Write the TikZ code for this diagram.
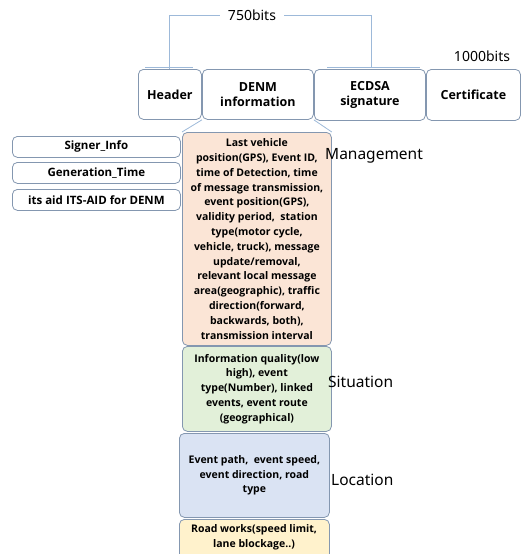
\documentclass[tikz,border=0pt]{standalone}
\usepackage{fontspec}
\setmainfont{Noto Sans}
\newfontfamily\boldf{Open Sans}
\definecolor{bordc}{HTML}{8497B0}
\definecolor{linec}{HTML}{9DB9D9}
\definecolor{peach}{HTML}{FBE5D6}
\definecolor{greenf}{HTML}{E2F0D9}
\definecolor{bluef}{HTML}{DAE3F3}
\definecolor{yellowf}{HTML}{FFF2CC}
\begin{document}
\begin{tikzpicture}[x=1pt,y=-1pt,
  box/.style={draw=bordc, rounded corners=5pt, line width=0.8pt, anchor=north west, inner sep=1pt, align=center, fill=white},
  topbox/.style={box, font=\boldf\fontsize{12.5}{15}\selectfont\bfseries},
  infobox/.style={box, font=\boldf\fontsize{10.5}{14.8}\selectfont\bfseries},
  sidebox/.style={box, font=\boldf\fontsize{11.5}{12}\selectfont\bfseries, minimum width=168pt, minimum height=21pt},
  lab/.style={font=\fontsize{15.5}{18}\selectfont, anchor=west, inner sep=0pt},
  conn/.style={draw=linec, line width=0.8pt}]
\clip (0,0) rectangle (521,554);
% top row
\node[topbox, minimum width=63pt, minimum height=50pt] (hdr) at (138,69) {Header};
\node[topbox, minimum width=111pt, minimum height=50pt] (denm) at (202,69) {DENM\\[0pt]information};
\node[topbox, minimum width=111pt, minimum height=51pt] (ecdsa) at (314,69) {ECDSA\\[0pt]signature};
\node[topbox, minimum width=94pt, minimum height=51pt] (cert) at (426,69) {Certificate};
% bits labels
\node[font=\fontsize{14}{16}\selectfont, inner sep=0pt] (b750) at (252,15) {750bits};
\node[font=\fontsize{14}{16}\selectfont, inner sep=0pt] (b1000) at (482,56) {1000bits};
\coordinate (hl1) at (145,67); \coordinate (hl2) at (193,67);
\coordinate (el1) at (327,67); \coordinate (el2) at (420,67);
\draw[conn] (hl1) -- (hl2);
\draw[conn] (el1) -- (el2);
\coordinate (bl) at (169,69); \coordinate (br) at (371,68);
\coordinate (tl) at (169,15); \coordinate (tr) at (371,15);
\draw[conn] (bl) -- (tl) -- ([xshift=-8pt]b750.west);
\draw[conn] ([xshift=8pt]b750.east) -- (tr) -- (br);
% left boxes
\node[sidebox] (signer) at (12,136) {Signer\_Info};
\node[sidebox] (gen) at (12,162) {Generation\_Time};
\node[sidebox] (aid) at (12,189) {its aid ITS-AID for DENM};
% stacked info boxes
\node[infobox, fill=peach, minimum width=149pt, minimum height=213pt] (mgmt) at (182,132) {Last vehicle\\position(GPS), Event ID,\\time of Detection, time\\of message transmission,\\event position(GPS),\\validity period,\ \ station\\type(motor cycle,\\vehicle, truck), message\\update/removal,\\relevant local message\\area(geographic), traffic\\direction(forward,\\backwards, both),\\transmission interval};
\node[infobox, fill=greenf, minimum width=149pt, minimum height=85pt] (sit) at (182,346) {Information quality(low\\high), event\\type(Number), linked\\events, event route\\(geographical)};
\node[infobox, fill=bluef, minimum width=150pt, minimum height=84pt] (loc) at (179,433) {Event path,\ \ event speed,\\event direction, road\\type};
\node[infobox, fill=yellowf, minimum width=150pt, minimum height=45pt] (road) at (179,519) {};
\node[font=\boldf\fontsize{10.5}{14.8}\selectfont\bfseries, align=center, anchor=north] (roadtxt) at (254,521) {Road works(speed limit,\\lane blockage..)};
% trapezoid connectors
\draw[conn] (denm.south west) -- (mgmt.north west);
\draw[conn] (denm.south east) -- (mgmt.north east);
% labels
\node[lab] (lmg) at (325,156) {Management};
\node[lab] (lsit) at (328,382) {Situation};
\node[lab] (lloc) at (331,480) {Location};
\end{tikzpicture}
\end{document}
